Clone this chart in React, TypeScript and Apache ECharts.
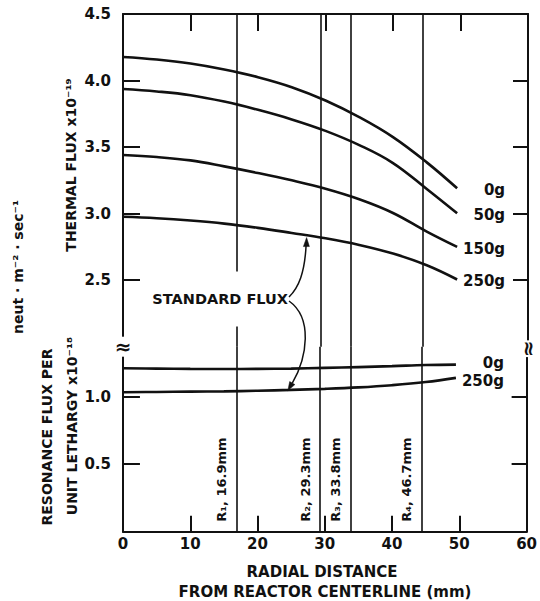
import React, { useEffect, useRef } from "react";
import * as echarts from "echarts";

// ---- data ----
const radialMm = [0, 5, 10, 15, 20, 25, 30, 35, 40, 45, 49.5];
const thermal0g = [4.177, 4.158, 4.128, 4.083, 4.025, 3.95, 3.85, 3.725, 3.575, 3.385, 3.19];
const thermal50g = [3.936, 3.918, 3.89, 3.842, 3.78, 3.708, 3.622, 3.515, 3.38, 3.185, 3.002];
const thermal150g = [3.44, 3.425, 3.4, 3.355, 3.305, 3.25, 3.187, 3.108, 3.005, 2.865, 2.75];
const thermal250g = [2.976, 2.965, 2.948, 2.925, 2.893, 2.855, 2.815, 2.765, 2.7, 2.612, 2.505];
const resonance0g = [1.21, 1.208, 1.206, 1.205, 1.206, 1.208, 1.213, 1.219, 1.226, 1.234, 1.237];
const resonance250g = [1.033, 1.035, 1.037, 1.039, 1.044, 1.05, 1.058, 1.069, 1.085, 1.108, 1.139];

const thermalNames = ["0g", "50g", "150g", "250g"];
const resonanceNames = ["0g", "250g"];
const xTickValues = [10, 20, 30, 40, 50];
const thermalTickValues = [2.5, 3.0, 3.5, 4.0];
const thermalLabelValues = [2.5, 3.0, 3.5, 4.0, 4.5];
const resonanceTickValues = [0.5, 1.0];
const resonanceLabelValues = [0.5, 1.0];
const radiusLines = [16.9, 29.3, 33.8, 44.4];
const radiusLabels = ["R\u2081, 16.9mm", "R\u2082, 29.3mm", "R\u2083, 33.8mm", "R\u2084, 46.7mm"];
const standardArrowUpper = [27.2, 2.82];
const standardArrowLower = [24.5, 1.043];

// ---- axis ranges ----
const X_MIN = 0;
const X_MAX = 60;
const THERMAL_MIN = 2.0;
const THERMAL_MAX = 4.5;
const RES_MIN = 0;
const RES_MAX = 1.37;

// ---- layout ----
const W = 540;
const H = 601;
const L = 123;
const R = 528;
const TOP = 14;
const BRK = 346.7;
const BOT = 531.7;
const FONT = "DejaVu Sans";
const INK = "#111";

const axisLineStyle = { color: INK, width: 2 };

export default function App() {
  const ref = useRef<HTMLDivElement>(null);

  useEffect(() => {
    if (!ref.current) return;
    const chart = echarts.init(ref.current, null, { renderer: "svg" });
    const thermal = [thermal0g, thermal50g, thermal150g, thermal250g];
    const resonance = [resonance0g, resonance250g];
    const toPts = (arr: number[]) => radialMm.map((x, i) => [x, arr[i]]);

    // data units per pixel, for tick lengths
    const xPerPx = (X_MAX - X_MIN) / (R - L);
    const thermalPerPx = (THERMAL_MAX - THERMAL_MIN) / (BRK - TOP);
    const resPerPx = (RES_MAX - RES_MIN) / (BOT - BRK);

    const radiusMarkLine = {
      silent: true,
      symbol: ["none", "none"],
      label: { show: false },
      lineStyle: { type: "solid", color: INK, width: 1.6 },
      data: radiusLines.map((x) => ({ xAxis: x })),
    };

    const seg = (a: number[], b: number[]) => [{ coord: a }, { coord: b }];

    const thermalTickMarks = {
      silent: true,
      symbol: ["none", "none"],
      label: { show: false },
      lineStyle: { type: "solid", color: INK, width: 2 },
      data: [
        ...xTickValues.map((v) => seg([v, THERMAL_MAX], [v, THERMAL_MAX - 17 * thermalPerPx])),
        ...thermalTickValues.map((v) => seg([X_MIN, v], [X_MIN + 17 * xPerPx, v])),
        ...thermalTickValues.map((v) => seg([X_MAX, v], [X_MAX - 15 * xPerPx, v])),
      ],
    };

    const resTickMarks = {
      silent: true,
      symbol: ["none", "none"],
      label: { show: false },
      lineStyle: { type: "solid", color: INK, width: 2 },
      data: [
        ...xTickValues.map((v) => seg([v, RES_MIN], [v, RES_MIN + 16 * resPerPx])),
        ...resonanceTickValues.map((v) => seg([X_MIN, v], [X_MIN + 17 * xPerPx, v])),
        ...resonanceTickValues.map((v) => seg([X_MAX, v], [X_MAX - 15 * xPerPx, v])),
      ],
    };

    const lineSeries = (name: string, arr: number[], grid: number, markLine: any) => ({
      type: "line",
      name,
      xAxisIndex: grid,
      yAxisIndex: grid * 2,
      data: toPts(arr),
      smooth: 0.4,
      symbol: "none",
      lineStyle: { color: INK, width: 2.6 },
      markLine,
      z: 3,
    });

    const xRange = { type: "value", min: X_MIN, max: X_MAX, interval: 10 };
    const noSplit = { splitLine: { show: false } };

    const showOnly = (labels: number[]) => (v: number) =>
      labels.some((l) => Math.abs(l - v) < 1e-6) ? v.toFixed(1) : "";

    const yMain = (grid: number, pos: string, min: number, max: number, labels: number[] | null) => ({
      type: "value",
      gridIndex: grid,
      position: pos,
      min,
      max,
      interval: 0.5,
      axisLine: { show: true, onZero: false, lineStyle: axisLineStyle },
      axisTick: { show: false },
      ...noSplit,
      axisLabel: labels
        ? {
            show: true,
            margin: 12,
            fontFamily: FONT,
            fontWeight: "bold",
            fontSize: 15,
            color: INK,
            formatter: showOnly(labels),
          }
        : { show: false },
    });

    chart.setOption({
      animation: false,
      backgroundColor: "#fff",
      grid: [
        { left: L, width: R - L, top: TOP, height: BRK - TOP },
        { left: L, width: R - L, top: BRK, height: BOT - BRK },
      ],
      xAxis: [
        {
          ...xRange,
          gridIndex: 0,
          position: "top",
          axisLine: { show: true, onZero: false, lineStyle: axisLineStyle },
          axisTick: { show: false },
          axisLabel: { show: false },
          ...noSplit,
        },
        {
          ...xRange,
          gridIndex: 1,
          position: "bottom",
          axisLine: { show: true, onZero: false, lineStyle: axisLineStyle },
          axisTick: { show: false },
          ...noSplit,
          axisLabel: {
            show: true,
            margin: 5,
            fontFamily: FONT,
            fontWeight: "bold",
            fontSize: 15,
            color: INK,
          },
        },
      ],
      yAxis: [
        yMain(0, "left", THERMAL_MIN, THERMAL_MAX, thermalLabelValues),
        yMain(0, "right", THERMAL_MIN, THERMAL_MAX, null),
        yMain(1, "left", RES_MIN, RES_MAX, resonanceLabelValues),
        yMain(1, "right", RES_MIN, RES_MAX, null),
      ],
      series: [
        lineSeries(thermalNames[0], thermal0g, 0, radiusMarkLine),
        lineSeries(thermalNames[1], thermal50g, 0, thermalTickMarks),
        lineSeries(thermalNames[2], thermal150g, 0, undefined),
        lineSeries(thermalNames[3], thermal250g, 0, undefined),
        lineSeries(resonanceNames[0], resonance0g, 1, radiusMarkLine),
        lineSeries(resonanceNames[1], resonance250g, 1, resTickMarks),
      ],
    });

    const textStyle = (extra: any) => ({ fontFamily: FONT, fontWeight: "bold", fill: INK, ...extra });
    const graphics: any[] = [];

    // curve end labels
    thermal.forEach((arr, i) => {
      const p = chart.convertToPixel({ gridIndex: 0 }, [radialMm[radialMm.length - 1], arr[arr.length - 1]]);
      graphics.push({
        type: "text",
        x: p[0] + 48,
        y: p[1] + 2,
        style: textStyle({ text: thermalNames[i], fontSize: 15, textAlign: "right", textVerticalAlign: "middle" }),
      });
    });
    resonance.forEach((arr, i) => {
      const p = chart.convertToPixel({ gridIndex: 1 }, [radialMm[radialMm.length - 1], arr[arr.length - 1]]);
      graphics.push({
        type: "text",
        x: p[0] + 48,
        y: p[1] + (i === 0 ? -2 : 3),
        style: textStyle({ text: resonanceNames[i], fontSize: 15, textAlign: "right", textVerticalAlign: "middle" }),
      });
    });

    // radius labels
    radiusLines.forEach((r, i) => {
      const p = chart.convertToPixel({ gridIndex: 1 }, [r, 0]);
      graphics.push({
        type: "text",
        x: p[0] - 15,
        y: p[1] - 10,
        rotation: Math.PI / 2,
        style: textStyle({ text: radiusLabels[i], fontSize: 13, textAlign: "left", textVerticalAlign: "middle" }),
      });
    });

    // STANDARD FLUX annotation
    graphics.push({
      type: "text",
      x: 288,
      y: 299,
      z: 100,
      style: textStyle({
        text: "STANDARD FLUX",
        fontSize: 14.5,
        textAlign: "right",
        textVerticalAlign: "middle",
        backgroundColor: "#fff",
        padding: [20, 0, 20, 0],
      }),
    });
    const tu = chart.convertToPixel({ gridIndex: 0 }, standardArrowUpper);
    const tl = chart.convertToPixel({ gridIndex: 1 }, standardArrowLower);
    graphics.push({
      type: "bezierCurve",
      z: 101,
      shape: { x1: 289, y1: 297, cpx1: 299, cpy1: 287, cpx2: tu[0] - 2, cpy2: tu[1] + 35, x2: tu[0] - 0.5, y2: tu[1] + 8 },
      style: { stroke: INK, lineWidth: 1.5, fill: null },
    });
    graphics.push({
      type: "polygon",
      z: 101,
      shape: { points: [[tu[0], tu[1]], [tu[0] - 3.2, tu[1] + 9], [tu[0] + 2.8, tu[1] + 9]] },
      style: { fill: INK, stroke: INK, lineWidth: 0.5 },
    });
    const dir = [-0.5, 0.866];
    const base = [tl[0] - 9 * dir[0], tl[1] - 9 * dir[1]];
    const perp = [0.866 * 3, 0.5 * 3];
    graphics.push({
      type: "bezierCurve",
      z: 101,
      shape: {
        x1: 289, y1: 301, cpx1: 313, cpy1: 318,
        cpx2: base[0] + 0.5 * 30, cpy2: base[1] - 0.866 * 30,
        x2: base[0], y2: base[1],
      },
      style: { stroke: INK, lineWidth: 1.5, fill: null },
    });
    graphics.push({
      type: "polygon",
      z: 101,
      shape: { points: [[tl[0], tl[1]], [base[0] + perp[0], base[1] + perp[1]], [base[0] - perp[0], base[1] - perp[1]]] },
      style: { fill: INK, stroke: INK, lineWidth: 0.5 },
    });

    // axis break marks
    graphics.push({
      type: "text",
      x: L,
      y: BRK,
      z: 100,
      style: textStyle({ text: "\u2248", fontSize: 20, textAlign: "center", textVerticalAlign: "middle", backgroundColor: "#fff" }),
    });
    graphics.push({
      type: "text",
      x: R,
      y: BRK + 2,
      z: 100,
      rotation: Math.PI / 2,
      style: textStyle({ text: "\u2248", fontSize: 20, textAlign: "center", textVerticalAlign: "middle", backgroundColor: "#fff" }),
    });

    // axis titles
    graphics.push({
      type: "text",
      x: 322,
      y: 572,
      style: textStyle({ text: "RADIAL DISTANCE", fontSize: 15, textAlign: "center", textVerticalAlign: "middle" }),
    });
    graphics.push({
      type: "text",
      x: 325,
      y: 592,
      style: textStyle({ text: "FROM REACTOR CENTERLINE (mm)", fontSize: 15, textAlign: "center", textVerticalAlign: "middle" }),
    });
    graphics.push({
      type: "text",
      x: 71,
      y: 165,
      rotation: Math.PI / 2,
      style: textStyle({ text: "THERMAL FLUX x10\u207B\u00B9\u2079", fontSize: 14, textAlign: "center", textVerticalAlign: "middle" }),
    });
    graphics.push({
      type: "text",
      x: 47,
      y: 437,
      rotation: Math.PI / 2,
      style: textStyle({ text: "RESONANCE FLUX PER", fontSize: 14, textAlign: "center", textVerticalAlign: "middle" }),
    });
    graphics.push({
      type: "text",
      x: 72,
      y: 426,
      rotation: Math.PI / 2,
      style: textStyle({ text: "UNIT LETHARGY x10\u207B\u00B9\u2078", fontSize: 14, textAlign: "center", textVerticalAlign: "middle" }),
    });
    graphics.push({
      type: "text",
      x: 18,
      y: 267,
      rotation: Math.PI / 2,
      style: textStyle({ text: "neut \u00B7 m\u207B\u00B2 \u00B7 sec\u207B\u00B9", fontSize: 14, textAlign: "center", textVerticalAlign: "middle" }),
    });

    chart.setOption({ graphic: graphics });

    return () => chart.dispose();
  }, []);

  return (
    <div
      ref={ref}
      style={{ position: "fixed", left: 0, top: 0, width: W, height: H, background: "#fff" }}
    />
  );
}
